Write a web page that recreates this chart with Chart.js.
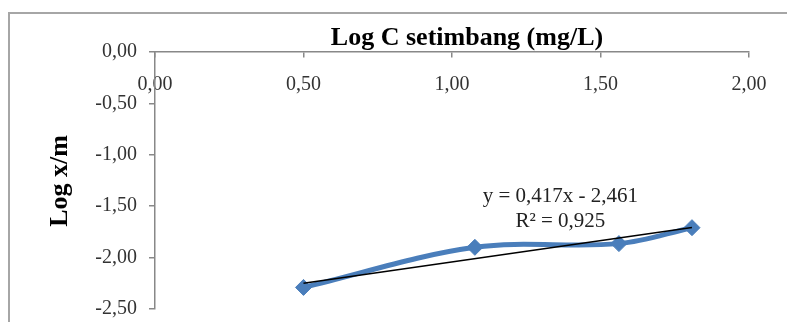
<!DOCTYPE html>
<html>
<head>
<meta charset="utf-8">
<script src="https://cdn.jsdelivr.net/npm/chart.js@4/dist/chart.umd.min.js"></script>
<style>
  html, body { margin: 0; padding: 0; background: #fff; }
  #wrap { width: 787px; height: 322px; }
</style>
</head>
<body>
<div id="wrap"><canvas id="chart"></canvas></div>
<script>
// data
const logC = [0.50, 1.077, 1.562, 1.808];
const logXM = [-2.29, -1.90, -1.864, -1.709];
const trendX = [0.50, 1.808];
const trendY = [-2.25, -1.707];
const xTicks = [0, 0.5, 1, 1.5, 2];
const yTicks = [0, -0.5, -1, -1.5, -2, -2.5];
const eqText = ["y = 0,417x - 2,461", "R\u00b2 = 0,925"];

const serif = "'Liberation Serif', 'Times New Roman', serif";
const fmt = v => v.toFixed(2).replace(".", ",");

// frame, title, y title and trend equation
const decor = {
  id: "decor",
  beforeDraw(c) {
    const ctx = c.ctx;
    ctx.save();
    ctx.fillStyle = "#fff";
    ctx.fillRect(0, 0, c.width, c.height);
    ctx.strokeStyle = "#a6a6a6";
    ctx.lineWidth = 2;
    ctx.strokeRect(9, 13, c.width + 20, c.height + 20);
    ctx.restore();
  },
  afterDraw(c) {
    const ctx = c.ctx;
    const xs = c.scales.x, ys = c.scales.y;
    ctx.save();
    ctx.fillStyle = "#000";
    ctx.textAlign = "center";
    ctx.textBaseline = "middle";
    ctx.font = "bold 26px " + serif;
    ctx.fillText("Log C setimbang (mg/L)", 467, 38);

    ctx.save();
    ctx.translate(60, 181);
    ctx.rotate(-Math.PI / 2);
    ctx.fillText("Log x/m", 0, 0);
    ctx.restore();

    ctx.font = "21px " + serif;
    ctx.fillStyle = "#222";
    ctx.fillText(eqText[0], xs.getPixelForValue(1.365), ys.getPixelForValue(-1.405));
    ctx.fillText(eqText[1], xs.getPixelForValue(1.365), ys.getPixelForValue(-1.65));
    ctx.restore();
  }
};

new Chart(document.getElementById("chart"), {
  type: "line",
  data: {
    datasets: [
      {
        label: "trend",
        data: trendX.map((x, i) => ({ x, y: trendY[i] })),
        borderColor: "#000",
        borderWidth: 1.5,
        pointRadius: 0,
        tension: 0
      },
      {
        label: "Log x/m",
        data: logC.map((x, i) => ({ x, y: logXM[i] })),
        borderColor: "#4a7ebb",
        backgroundColor: "#4a7ebb",
        borderWidth: 5,
        pointStyle: "rectRot",
        pointRadius: 8,
        pointBorderWidth: 1,
        tension: 0.35
      }
    ]
  },
  options: {
    responsive: true,
    maintainAspectRatio: false,
    animation: false,
    layout: { padding: { top: 52, bottom: 13, right: 38, left: 0 } },
    plugins: {
      legend: { display: false },
      tooltip: { enabled: false },
      title: { display: false }
    },
    scales: {
      x: {
        type: "linear",
        position: { y: 0 },
        min: 0,
        max: 2,
        afterBuildTicks: s => { s.ticks = xTicks.map(v => ({ value: v })); },
        afterFit: s => { s.height = 0; },
        ticks: {
          callback: v => fmt(v),
          font: { family: serif, size: 20 },
          color: "#333",
          padding: 16
        },
        grid: { drawOnChartArea: false, drawTicks: true, tickLength: 5, color: "#888", lineWidth: 1.5 },
        border: { color: "#888", width: 1.5 }
      },
      y: {
        type: "linear",
        position: "left",
        min: -2.5,
        max: 0,
        afterBuildTicks: s => { s.ticks = yTicks.map(v => ({ value: v })); },
        afterFit: s => { s.width = 155; s.paddingTop = 0; s.paddingBottom = 0; },
        ticks: {
          callback: v => fmt(v),
          font: { family: serif, size: 20 },
          color: "#333",
          padding: 12
        },
        grid: { drawOnChartArea: false, drawTicks: true, tickLength: 6, color: "#888", lineWidth: 1.5 },
        border: { color: "#888", width: 1.5 }
      }
    }
  },
  plugins: [decor]
});
</script>
</body>
</html>
